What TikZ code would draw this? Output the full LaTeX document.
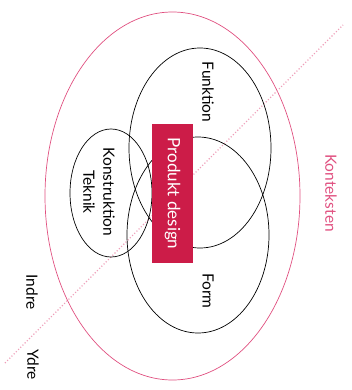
\documentclass[tikz,border=0pt]{standalone}
\usepackage{fontspec}
\setmainfont{Lato}
\definecolor{kontekstPink}{RGB}{224,80,128}
\definecolor{designRed}{RGB}{204,28,72}
\usepackage{tikz}
\usetikzlibrary{shapes.geometric, positioning}

\begin{document}
\begin{tikzpicture}[x=1pt, y=-1pt,
  felt/.style={ellipse, draw=black, line width=0.7pt, inner sep=0pt},
  ramme/.style={ellipse, draw=kontekstPink, line width=0.7pt, inner sep=0pt},
  lbl/.style={rotate=-90, align=center, font=\fontsize{15.5}{20}\selectfont},
  kerne/.style={rectangle, fill=designRed, text=white, minimum width=41pt,
                minimum height=139pt, inner sep=0pt},
  skel/.style={dotted, line width=1.1pt, kontekstPink!55},
]
  \useasboundingbox (0,0) rectangle (352,390);

  % Context
  \node[ramme, minimum width=255pt, minimum height=368pt] (kontekst) at (172.5,196) {};
  \coordinate (skelA) at (5,363);
  \coordinate (skelB) at (343,25);
  \draw[skel] (skelA) -- (skelB);

  % Fields
  \node[felt, minimum width=142pt, minimum height=200pt] (funktion) at (200,148) {};
  \node[felt, minimum width=142pt, minimum height=196pt] (form) at (198,235) {};
  \node[felt, minimum width=82pt, minimum height=128pt] (konstr) at (111,193) {};

  % Core
  \node[kerne] (design) at (172.5,193.5) {};
  \node[lbl, text=white, font=\fontsize{17}{20}\selectfont] at (design.center) {Produkt design};

  % Labels
  \node[lbl] (tFunktion) at (208,92) {Funktion};
  \node[lbl] (tForm) at (208,291) {Form};
  \node[lbl] (tKonstr) at (99,192) {Konstruktion\\Teknik};
  \node[lbl, text=kontekstPink] (tKontekst) at (331,193) {Konteksten};
  \node[lbl] (tIndre) at (32,292) {Indre};
  \node[lbl] (tYdre) at (33,365) {Ydre};
\end{tikzpicture}
\end{document}
